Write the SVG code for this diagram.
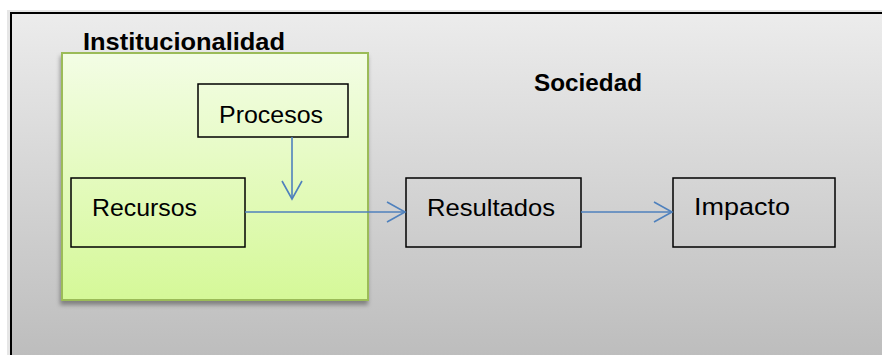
<svg xmlns="http://www.w3.org/2000/svg" width="882" height="355" viewBox="0 0 882 355">
<defs>
<linearGradient id="bg" x1="0" y1="0" x2="0" y2="1">
<stop offset="0" stop-color="#ececec"/>
<stop offset="1" stop-color="#bcbcbc"/>
</linearGradient>
<linearGradient id="green" x1="0" y1="0" x2="0" y2="1">
<stop offset="0" stop-color="#f3fde5"/>
<stop offset="1" stop-color="#d5f898"/>
</linearGradient>
<filter id="shadow" x="-10%" y="-10%" width="120%" height="120%">
<feDropShadow dx="-1" dy="4" stdDeviation="2" flood-color="#000" flood-opacity="0.35"/>
</filter>
<marker id="arrow" markerUnits="userSpaceOnUse" markerWidth="24" markerHeight="24" viewBox="-20 -12 24 24" refX="0" refY="0" orient="auto">
<path d="M-18,-10 L0,0 L-18,10" fill="none" stroke="#4f81bd" stroke-width="1.6"/>
</marker>
<style>
.box{fill:none;stroke:#000;stroke-width:1.5}
.lbl{font-family:"Liberation Sans",Arial,sans-serif;font-size:24px;fill:#000}
.bold{font-family:"Liberation Sans",Arial,sans-serif;font-size:24px;font-weight:bold;fill:#000}
.conn{fill:none;stroke:#4f81bd;stroke-width:1.6}
</style>
</defs>
<rect x="7" y="10" width="880" height="350" fill="#e6e6e6"/>
<rect x="0" y="0" width="882" height="10" fill="#fff"/>
<rect x="0" y="0" width="7" height="355" fill="#fff"/>
<g id="sociedad">
<rect x="11" y="13" width="880" height="350" fill="url(#bg)" stroke="#000" stroke-width="2"/>
<text class="bold" x="534" y="91" textLength="108" lengthAdjust="spacingAndGlyphs">Sociedad</text>
</g>
<g id="institucionalidad">
<rect x="62" y="53" width="306" height="247" fill="url(#green)" stroke="#9bbb59" stroke-width="2" filter="url(#shadow)"/>
<text class="bold" x="83" y="50" textLength="202" lengthAdjust="spacingAndGlyphs">Institucionalidad</text>
</g>
<g id="procesos">
<rect class="box" x="198" y="84" width="150" height="53"/>
<text class="lbl" x="219" y="123" textLength="104" lengthAdjust="spacingAndGlyphs">Procesos</text>
</g>
<g id="recursos">
<rect class="box" x="71" y="178" width="174" height="69"/>
<text class="lbl" x="92" y="216" textLength="105" lengthAdjust="spacingAndGlyphs">Recursos</text>
</g>
<g id="resultados">
<rect class="box" x="406" y="178" width="175" height="69"/>
<text class="lbl" x="427" y="216" textLength="128" lengthAdjust="spacingAndGlyphs">Resultados</text>
</g>
<g id="impacto">
<rect class="box" x="673" y="178" width="162" height="69"/>
<text class="lbl" x="694" y="215" textLength="96" lengthAdjust="spacingAndGlyphs">Impacto</text>
</g>
<g id="connectors">
<line class="conn" x1="292" y1="137" x2="292" y2="199" marker-end="url(#arrow)"/>
<line class="conn" x1="245" y1="212" x2="405" y2="212" marker-end="url(#arrow)"/>
<line class="conn" x1="581" y1="212" x2="672" y2="212" marker-end="url(#arrow)"/>
</g>
</svg>
